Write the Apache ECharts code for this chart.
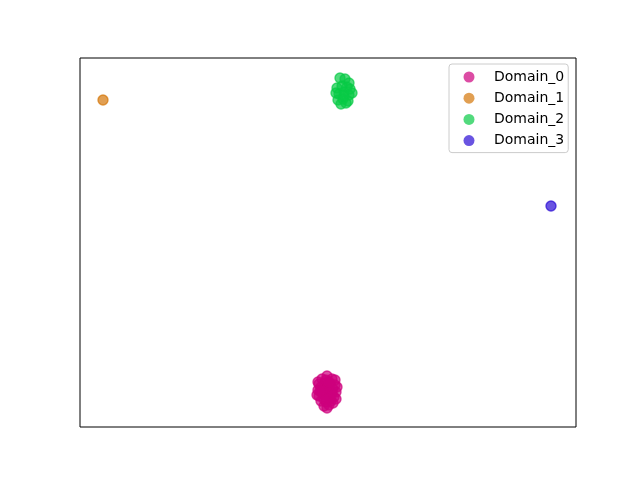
<!DOCTYPE html>
<html>
<head>
<meta charset="utf-8">
<script src="https://cdn.jsdelivr.net/npm/echarts@6/dist/echarts.min.js"></script>
<style>html,body{margin:0;padding:0;background:#fff;}#c{width:640px;height:480px;}</style>
</head>
<body>
<div id="c"></div>
<script>
const domainNames = ['Domain_0', 'Domain_1', 'Domain_2', 'Domain_3'];
const domain0 = [[247,51],[242,48],[252,48],[239,43],[245,44],[250,43],[255,42],[238,37],[243,38],[248,37],[253,38],[256,35],[239,31],[244,32],[249,31],[254,30],[241,26],[246,25],[251,26],[244,21],[249,22],[247,34],[242,34],[252,34],[246,40],[250,28],[241,40],[255,47],[238,45],[257,40],[237,32],[256,28],[246,47],[244,28],[253,24],[240,36],[249,45],[247,19]];
const domain1 = [[23,327]];
const domain2 = [[260,349],[265,348],[269,344],[257,339],[262,341],[267,340],[272,334],[259,333],[264,335],[269,332],[258,327],[263,328],[268,326],[261,323],[266,324],[264,331],[270,338],[256,334]];
const domain3 = [[471,221]];
const domainData = [domain0, domain1, domain2, domain3];
const domainColors = ['rgba(205,0,125,0.7)', 'rgba(212,118,8,0.7)', 'rgba(8,202,70,0.7)', 'rgba(42,12,212,0.7)'];

const chart = echarts.init(document.getElementById('c'));
chart.setOption({
  animation: false,
  backgroundColor: '#fff',
  grid: { left: 80, top: 58, width: 496, height: 369, show: true, borderColor: '#000', borderWidth: 1, backgroundColor: 'transparent' },
  xAxis: { type: 'value', min: 0, max: 496, axisLabel: { show: false }, axisTick: { show: false }, axisLine: { show: false }, splitLine: { show: false } },
  yAxis: { type: 'value', min: 0, max: 369, axisLabel: { show: false }, axisTick: { show: false }, axisLine: { show: false }, splitLine: { show: false } },
  legend: {
    orient: 'vertical',
    left: 449, top: 64,
    padding: [6, 4, 5, 14.5],
    itemWidth: 20, itemHeight: 11, itemGap: 7.2,
    icon: 'circle',
    borderColor: '#cccccc', borderWidth: 1, borderRadius: 3,
    backgroundColor: 'rgba(255,255,255,0.8)',
    textStyle: { fontFamily: 'DejaVu Sans', fontSize: 14, color: '#000', padding: [0, 0, 0, 10] },
    data: domainNames.map((n, i) => ({ name: n, itemStyle: { color: domainColors[i], borderWidth: 0 } }))
  },
  series: domainNames.map((n, i) => ({
    name: n,
    type: 'scatter',
    data: domainData[i],
    symbolSize: 10,
    itemStyle: { color: domainColors[i], borderColor: domainColors[i], borderWidth: 1.4, opacity: 1 }
  }))
});
</script>
</body>
</html>
